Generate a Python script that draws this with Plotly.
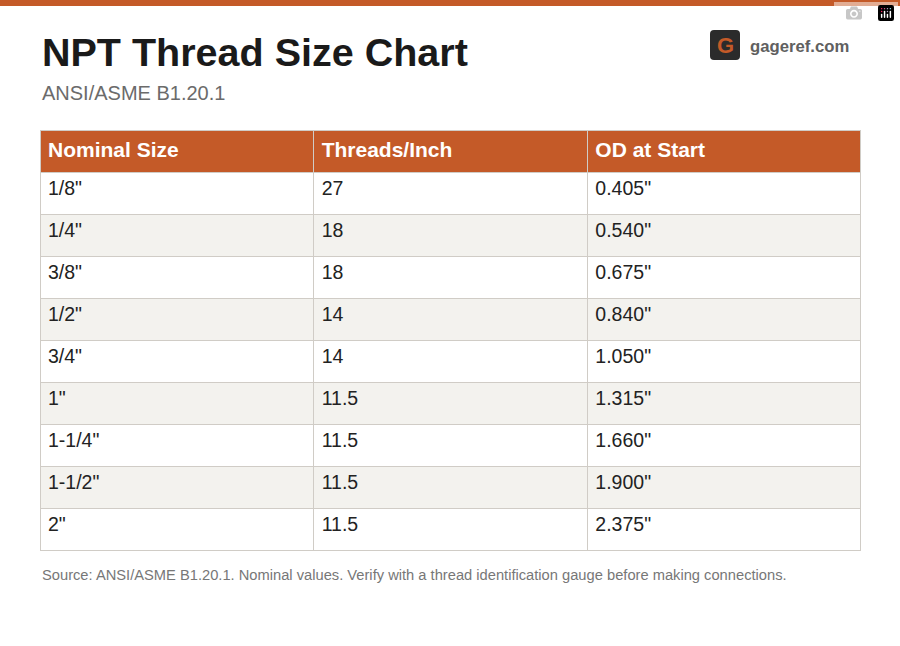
import plotly.graph_objects as go

headers = ["Nominal Size", "Threads/Inch", "OD at Start"]
sizes = ['1/8"', '1/4"', '3/8"', '1/2"', '3/4"', '1"', '1-1/4"', '1-1/2"', '2"']
tpi = ["27", "18", "18", "14", "14", "11.5", "11.5", "11.5", "11.5"]
od = ['0.405"', '0.540"', '0.675"', '0.840"', '1.050"', '1.315"', '1.660"', '1.900"', '2.375"']

W, H = 900, 646
ORANGE = "#c45a28"
FONT = "Liberation Sans, Arial"
fills = ["#ffffff" if i % 2 == 0 else "#f3f2ee" for i in range(len(sizes))]

fig = go.Figure(go.Table(
    domain=dict(x=[40/W, 861/W], y=[1-551/H, 1-130/H]),
    columnwidth=[1, 1, 1],
    header=dict(values=[f"<b>{h}</b>" for h in headers], fill_color=ORANGE,
                font=dict(family=FONT, size=21, color="white"),
                align="left", height=42, line=dict(color="#d0ccc6", width=1)),
    cells=dict(values=[sizes, tpi, od], fill_color=[fills]*3,
               font=dict(family=FONT, size=19.5, color="#222222"),
               align="left", height=42, line=dict(color="#d0ccc6", width=1)),
))

shapes = [
    dict(type="rect", xref="paper", yref="paper", x0=0, x1=1, y0=1-6/H, y1=1,
         fillcolor=ORANGE, line_width=0),
    dict(type="path", xref="paper", yref="paper",
         path=f"M {714/W} {1-30/H} L {736/W} {1-30/H} Q {740/W} {1-30/H} {740/W} {1-34/H} "
              f"L {740/W} {1-56/H} Q {740/W} {1-60/H} {736/W} {1-60/H} L {714/W} {1-60/H} "
              f"Q {710/W} {1-60/H} {710/W} {1-56/H} L {710/W} {1-34/H} Q {710/W} {1-30/H} {714/W} {1-30/H} Z",
         fillcolor="#2b2b2b", line_width=0),
]
annotations = [
    dict(text="<b>NPT Thread Size Chart</b>", x=40/W, y=1-52/H, xref="paper", yref="paper",
         xanchor="left", yanchor="middle", showarrow=False,
         font=dict(family=FONT, size=39.5, color="#1a1a1a")),
    dict(text="ANSI/ASME B1.20.1", x=40/W, y=1-93/H, xref="paper", yref="paper",
         xanchor="left", yanchor="middle", showarrow=False,
         font=dict(family=FONT, size=20, color="#6b6b6b")),
    dict(text="<b>G</b>", x=725/W, y=1-45/H, xref="paper", yref="paper",
         xanchor="center", yanchor="middle", showarrow=False,
         font=dict(family=FONT, size=22, color=ORANGE)),
    dict(text="<b>gageref.com</b>", x=748/W, y=1-46/H, xref="paper", yref="paper",
         xanchor="left", yanchor="middle", showarrow=False,
         font=dict(family=FONT, size=16.7, color="#606060")),
    dict(text="Source: ANSI/ASME B1.20.1. Nominal values. Verify with a thread identification gauge before making connections.",
         x=40/W, y=1-575/H, xref="paper", yref="paper",
         xanchor="left", yanchor="middle", showarrow=False,
         font=dict(family=FONT, size=14.7, color="#777777")),
]
fig.update_layout(width=W, height=H, margin=dict(l=0, r=0, t=0, b=0),
                  paper_bgcolor="white", plot_bgcolor="white",
                  shapes=shapes, annotations=annotations)
fig.write_html("out.html", post_script="document.body.style.margin='0';document.body.style.overflow='hidden';")
